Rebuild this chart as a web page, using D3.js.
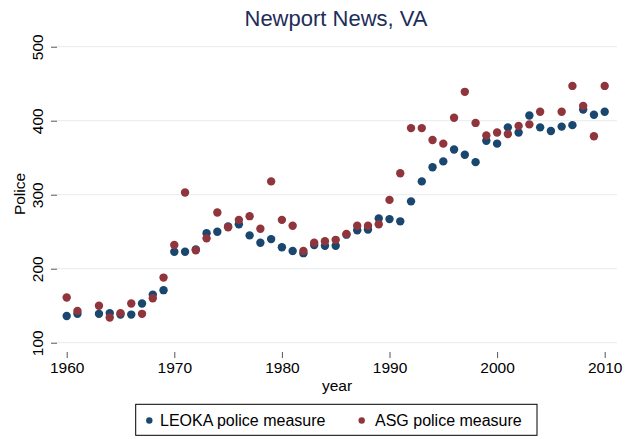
<!DOCTYPE html>
<html><head><meta charset="utf-8">
<script src="https://cdn.jsdelivr.net/npm/d3@7"></script>
<style>body{margin:0;background:#fff}svg{display:block;font-family:"Liberation Sans",Arial,sans-serif}</style>
</head><body>
<svg id="c" width="637" height="439"></svg>
<script>
const years = [1960,1961,1963,1964,1965,1966,1967,1968,1969,1970,1971,1972,1973,1974,1975,1976,1977,1978,1979,1980,1981,1982,1983,1984,1985,1986,1987,1988,1989,1990,1991,1992,1993,1994,1995,1996,1997,1998,1999,2000,2001,2002,2003,2004,2005,2006,2007,2008,2009,2010];
const leoka = [136,139,139,140,138,138,153,165,171,223,223,226,248,250,257,260,245,235,240,229,224,221,232,231,231,246,252,253,268,267,264,291,318,337,345,361,354,344,373,369,391,384,407,391,386,392,394,415,408,412];
const asgYears = [1960,1961,1963,1964,1965,1966,1967,1968,1969,1970,1971,1972,1973,1974,1975,1976,1977,1978,1979,1980,1981,1982,1983,1984,1985,1986,1987,1988,1989,1990,1991,1992,1993,1994,1995,1996,1997,1998,1999,2000,2001,2002,2003,2004,2006,2007,2008,2009,2010];
const asg = [161,143,150,134,140,153,139,160,188,232,303,225,241,276,256,266,271,254,318,266,258,224,235,237,239,247,258,258,260,293,329,390,390,374,369,404,439,397,380,384,382,393,395,412,412,447,420,379,447];
const yTicks = [100,200,300,400,500];
const xTicks = [1960,1970,1980,1990,2000,2010];
const seriesNames = ["LEOKA police measure","ASG police measure"];
const colors = ["#1a476f","#90353b"];

const svg = d3.select("#c");
const x = d3.scaleLinear().domain([1960,2010]).range([66.7,604.7]);
const y = d3.scaleLinear().domain([100,500]).range([342.7,46.7]);
const left = 57, right = 617, bottom = 352;
const FS = 15.5;

// gridlines
svg.append("g").selectAll("line").data(yTicks).join("line")
  .attr("x1",left).attr("x2",right).attr("y1",d=>y(d)).attr("y2",d=>y(d))
  .attr("stroke","#eaf0f2").attr("stroke-width",1.2);

// y axis
const ya = svg.append("g").attr("transform",`translate(${left},0)`)
  .call(d3.axisLeft(y).tickValues(yTicks).tickSize(6).tickPadding(4));
ya.select(".domain").remove();
ya.selectAll(".tick line").attr("stroke","#555");
ya.selectAll(".tick text").attr("transform","rotate(-90)")
  .attr("x",0).attr("y",-14.5).attr("dy",0).attr("text-anchor","middle")
  .attr("font-size",FS).attr("fill","#000").attr("font-family","Liberation Sans, Arial, sans-serif");

// x axis
const xa = svg.append("g").attr("transform",`translate(0,${bottom})`)
  .call(d3.axisBottom(x).tickValues(xTicks).tickFormat(d3.format("d")).tickSize(6).tickPadding(4));
xa.select(".domain").remove();
xa.selectAll(".tick line").attr("stroke","#555");
xa.selectAll(".tick text").attr("font-size",FS).attr("fill","#000").attr("font-family","Liberation Sans, Arial, sans-serif");

// axis titles
svg.append("text").attr("x",337).attr("y",391).attr("text-anchor","middle")
  .attr("font-size",FS).text("year");
svg.append("text").attr("transform","translate(25,194) rotate(-90)").attr("text-anchor","middle")
  .attr("font-size",FS).text("Police");

// title
svg.append("text").attr("x",336).attr("y",26).attr("text-anchor","middle")
  .attr("font-size",22).attr("fill","#1e2d5a").text("Newport News, VA");

// points
const r = 4.2;
svg.append("g").selectAll("circle").data(years.map((d,i)=>[d,leoka[i]])).join("circle")
  .attr("cx",d=>x(d[0])).attr("cy",d=>y(d[1])).attr("r",r).attr("fill",colors[0]);
svg.append("g").selectAll("circle").data(asgYears.map((d,i)=>[d,asg[i]])).join("circle")
  .attr("cx",d=>x(d[0])).attr("cy",d=>y(d[1])).attr("r",r).attr("fill",colors[1]);

// legend
const lg = svg.append("g");
lg.append("rect").attr("x",135.7).attr("y",404.3).attr("width",401.3).attr("height",31)
  .attr("fill","#fff").attr("stroke","#000").attr("stroke-width",1);
const lx = [149.3,361.7], tx=[160,375];
seriesNames.forEach((n,i)=>{
  lg.append("circle").attr("cx",lx[i]).attr("cy",420.5).attr("r",3.2).attr("fill",colors[i]);
  lg.append("text").attr("x",tx[i]).attr("y",426).attr("font-size",16).text(n);
});
</script>
</body></html>
